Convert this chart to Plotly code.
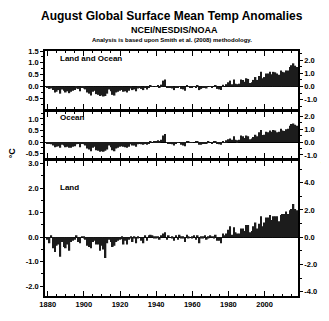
import plotly.graph_objects as go

years = list(range(1880, 2019))

land_ocean = [
    -0.05, -0.10, -0.08, -0.15, -0.25, -0.22, -0.15, -0.30, -0.12, -0.18,
    -0.25, -0.20, -0.28, -0.22, -0.18, -0.15, -0.08, -0.10, -0.20, -0.05,
    -0.08, -0.12, -0.25, -0.30, -0.38, -0.22, -0.18, -0.32, -0.35, -0.40,
    -0.38, -0.42, -0.40, -0.30, -0.12, -0.20, -0.35, -0.38, -0.25, -0.22,
    -0.18, -0.15, -0.22, -0.20, -0.25, -0.18, -0.08, -0.15, -0.12, -0.20,
    -0.08, -0.05, -0.10, -0.15, -0.05, -0.12, -0.02, 0.05, 0.02, 0.00,
    0.02, 0.05, -0.02, 0.08, 0.25, 0.30, -0.05, -0.02, -0.06, -0.08,
    -0.15, -0.02, -0.05, 0.02, -0.10, -0.12, -0.18, 0.05, 0.02, -0.02,
    -0.02, 0.02, -0.02, 0.05, -0.15, -0.10, -0.05, -0.02, -0.08, 0.00,
    0.02, -0.05, 0.00, 0.05, -0.10, -0.12, -0.15, 0.08, 0.00, 0.10,
    0.18, 0.25, 0.10, 0.30, 0.12, 0.10, 0.12, 0.30, 0.28, 0.20,
    0.35, 0.32, 0.15, 0.18, 0.28, 0.40, 0.28, 0.45, 0.62, 0.35,
    0.40, 0.55, 0.55, 0.62, 0.52, 0.62, 0.60, 0.55, 0.50, 0.68,
    0.62, 0.60, 0.68, 0.68, 0.82, 0.90, 0.98, 0.88, 0.82,
]

ocean = [
    -0.05, -0.08, -0.10, -0.15, -0.22, -0.20, -0.18, -0.25, -0.12, -0.15,
    -0.22, -0.20, -0.25, -0.25, -0.20, -0.18, -0.10, -0.08, -0.22, -0.08,
    -0.10, -0.15, -0.28, -0.32, -0.40, -0.25, -0.20, -0.35, -0.38, -0.42,
    -0.40, -0.42, -0.38, -0.32, -0.15, -0.22, -0.35, -0.40, -0.28, -0.25,
    -0.20, -0.18, -0.20, -0.22, -0.25, -0.20, -0.10, -0.15, -0.15, -0.20,
    -0.10, -0.08, -0.10, -0.12, -0.08, -0.12, -0.05, 0.02, 0.00, 0.02,
    0.05, 0.08, 0.02, 0.10, 0.28, 0.35, -0.02, -0.05, -0.08, -0.10,
    -0.15, -0.05, -0.02, 0.00, -0.12, -0.15, -0.18, 0.02, 0.05, -0.02,
    -0.02, 0.00, 0.02, 0.05, -0.12, -0.12, -0.05, -0.05, -0.08, 0.02,
    0.00, -0.08, 0.02, 0.02, -0.08, -0.10, -0.12, 0.05, -0.02, 0.08,
    0.12, 0.15, 0.10, 0.25, 0.10, 0.08, 0.10, 0.28, 0.25, 0.18,
    0.28, 0.25, 0.12, 0.15, 0.22, 0.32, 0.25, 0.42, 0.52, 0.30,
    0.32, 0.45, 0.42, 0.50, 0.45, 0.52, 0.50, 0.42, 0.45, 0.58,
    0.50, 0.48, 0.55, 0.58, 0.70, 0.78, 0.80, 0.75, 0.70,
]

land = [
    -0.10, -0.25, 0.05, -0.45, -0.60, -0.35, -0.30, -0.80, -0.20, -0.40,
    -0.45, -0.30, -0.55, -0.20, -0.15, -0.10, 0.05, -0.20, -0.25, 0.02,
    -0.05, -0.10, -0.35, -0.40, -0.45, -0.20, -0.15, -0.30, -0.30, -0.55,
    -0.35, -0.50, -0.85, -0.25, -0.10, -0.20, -0.40, -0.35, -0.20, -0.15,
    -0.10, -0.08, -0.30, -0.15, -0.30, -0.10, -0.05, -0.20, -0.05, -0.25,
    -0.05, 0.00, -0.15, -0.25, 0.05, -0.15, 0.05, 0.10, 0.05, -0.05,
    -0.05, -0.02, -0.10, 0.05, 0.15, 0.20, -0.10, 0.05, 0.00, -0.05,
    -0.15, 0.05, -0.10, 0.10, -0.05, -0.05, -0.20, 0.10, -0.05, 0.00,
    -0.05, 0.08, -0.10, 0.05, -0.25, -0.05, -0.05, 0.05, -0.10, -0.05,
    0.05, 0.02, -0.05, 0.10, -0.15, -0.15, -0.25, 0.15, 0.05, 0.15,
    0.30, 0.45, 0.10, 0.40, 0.20, 0.15, 0.15, 0.35, 0.35, 0.25,
    0.50, 0.50, 0.20, 0.25, 0.45, 0.60, 0.35, 0.55, 0.85, 0.45,
    0.60, 0.80, 0.80, 0.90, 0.70, 0.85, 0.85, 0.85, 0.65, 0.90,
    0.95, 0.95, 1.05, 0.95, 1.10, 1.15, 1.35, 1.15, 1.10,
]

year_ticks = [1880, 1900, 1920, 1940, 1960, 1980, 2000]
panel_names = ["Land and Ocean", "Ocean", "Land"]

# page has an 8px body margin; figure coordinates are page - 8
OFF = 8
W, H = 321, 313
L, R, T, B = 37, 31, 43, 21
PW, PH = W - L - R, H - T - B


def px(x):
    return (x - OFF - L) / PW


def py(y):
    return (H - B - (y - OFF)) / PH


FONT = "Liberation Sans"
BAR = "#1c1c1c"

fig = go.Figure()
series = [land_ocean, ocean, land]
for i, s in enumerate(series):
    k = "" if i == 0 else str(i + 1)
    fig.add_trace(go.Bar(x=years, y=s, xaxis="x" + k, yaxis="y" + k,
                         marker=dict(color=BAR, line=dict(width=0)),
                         showlegend=False, hoverinfo="skip"))
    # invisible trace for the right (deg F) axis
    fig.add_trace(go.Scatter(x=[years[0]], y=[None], xaxis="x" + k,
                             yaxis="y" + str(i + 4), mode="markers",
                             marker=dict(opacity=0), showlegend=False,
                             hoverinfo="skip"))

# page-pixel extents of panels (top, bottom)
panels = [(51, 110), (113, 160), (163, 300)]
c_ranges = [[-0.95, 1.5], [-0.7, 1.3], [-2.4, 3.1]]
c_ticks = [[-0.5, 0.0, 0.5, 1.0, 1.5], [-0.5, 0.0, 0.5, 1.0],
           [-2.0, -1.0, 0.0, 1.0, 2.0, 3.0]]
f_ticks = [[-1.0, 0.0, 1.0, 2.0], [-1.0, 0.0, 1.0, 2.0],
           [-4.0, -2.0, 0.0, 2.0, 4.0]]
c_minor = [0.25, 0.25, 0.5]
f_minor = [0.5, 0.5, 1.0]

tickfont = dict(family=FONT, size=7.5, color="black", weight="bold")
layout = dict(
    width=W, height=H,
    margin=dict(l=L, r=R, t=T, b=B, pad=0),
    paper_bgcolor="white", plot_bgcolor="white",
    bargap=0.12,
    font=dict(family=FONT, color="black"),
    showlegend=False,
)

for i in range(3):
    k = "" if i == 0 else str(i + 1)
    top, bot = panels[i]
    dom = [py(bot), py(top)]
    layout["xaxis" + k] = dict(
        domain=[0, 1], anchor="y" + k, range=[1878.5, 2018.5],
        tickvals=year_ticks, ticktext=[str(v) for v in year_ticks],
        ticks="inside", ticklen=5, tickwidth=1, tickcolor="black",
        minor=dict(dtick=5, tick0=1880, ticks="inside", ticklen=2,
                   tickcolor="black", tickwidth=1),
        showticklabels=(i == 2), tickfont=tickfont,
        showline=True, linecolor="black", linewidth=1.5, mirror="ticks",
        showgrid=False, zeroline=False, fixedrange=True,
    )
    layout["yaxis" + k] = dict(
        domain=dom, anchor="x" + k, range=c_ranges[i],
        tickvals=c_ticks[i], ticktext=["%.1f" % v for v in c_ticks[i]],
        ticks="outside", ticklen=3, tickwidth=1, tickcolor="black",
        minor=dict(dtick=c_minor[i], ticks="outside", ticklen=2,
                   tickcolor="black"),
        tickfont=tickfont, showline=True, linecolor="black", linewidth=1.5,
        mirror=True, showgrid=False, zeroline=True, zerolinecolor="black",
        zerolinewidth=1, fixedrange=True,
    )
    fr = [c_ranges[i][0] * 1.8, c_ranges[i][1] * 1.8]
    layout["yaxis" + str(i + 4)] = dict(
        overlaying="y" + k, side="right", anchor="x" + k, range=fr,
        tickvals=f_ticks[i], ticktext=["%.1f" % v for v in f_ticks[i]],
        ticks="outside", ticklen=3, tickwidth=1, tickcolor="black",
        minor=dict(dtick=f_minor[i], ticks="outside", ticklen=2,
                   tickcolor="black"),
        tickfont=tickfont, showline=True, linecolor="black", linewidth=1.5,
        showgrid=False, zeroline=False, fixedrange=True,
    )

annotations = [
    dict(text="<b>August Global Surface Mean Temp Anomalies</b>", x=px(172),
         y=py(15), font=dict(size=12)),
    dict(text="<b>NCEI/NESDIS/NOAA</b>", x=px(174), y=py(30),
         font=dict(size=9)),
    dict(text="<b>Analysis is based upon Smith et al. (2008) methodology.</b>",
         x=px(172), y=py(40), font=dict(size=6)),
    dict(text="<b>°C</b>", x=px(12), y=py(155), textangle=-90,
         font=dict(size=9)),
    dict(text="<b>°F</b>", x=px(324), y=py(162), textangle=-90,
         font=dict(size=7.5)),
]
label_y = [58.5, 118.5, 190]
for name, yy in zip(panel_names, label_y):
    annotations.append(dict(text="<b>%s</b>" % name, x=px(58), y=py(yy),
                            xanchor="left", font=dict(size=8)))
for a in annotations:
    a.update(xref="paper", yref="paper", showarrow=False)
    a.setdefault("xanchor", "center")
    a["yanchor"] = "middle"
    a["font"].update(family=FONT, color="black")
layout["annotations"] = annotations

fig.update_layout(layout)
fig.write_html("out.html")
